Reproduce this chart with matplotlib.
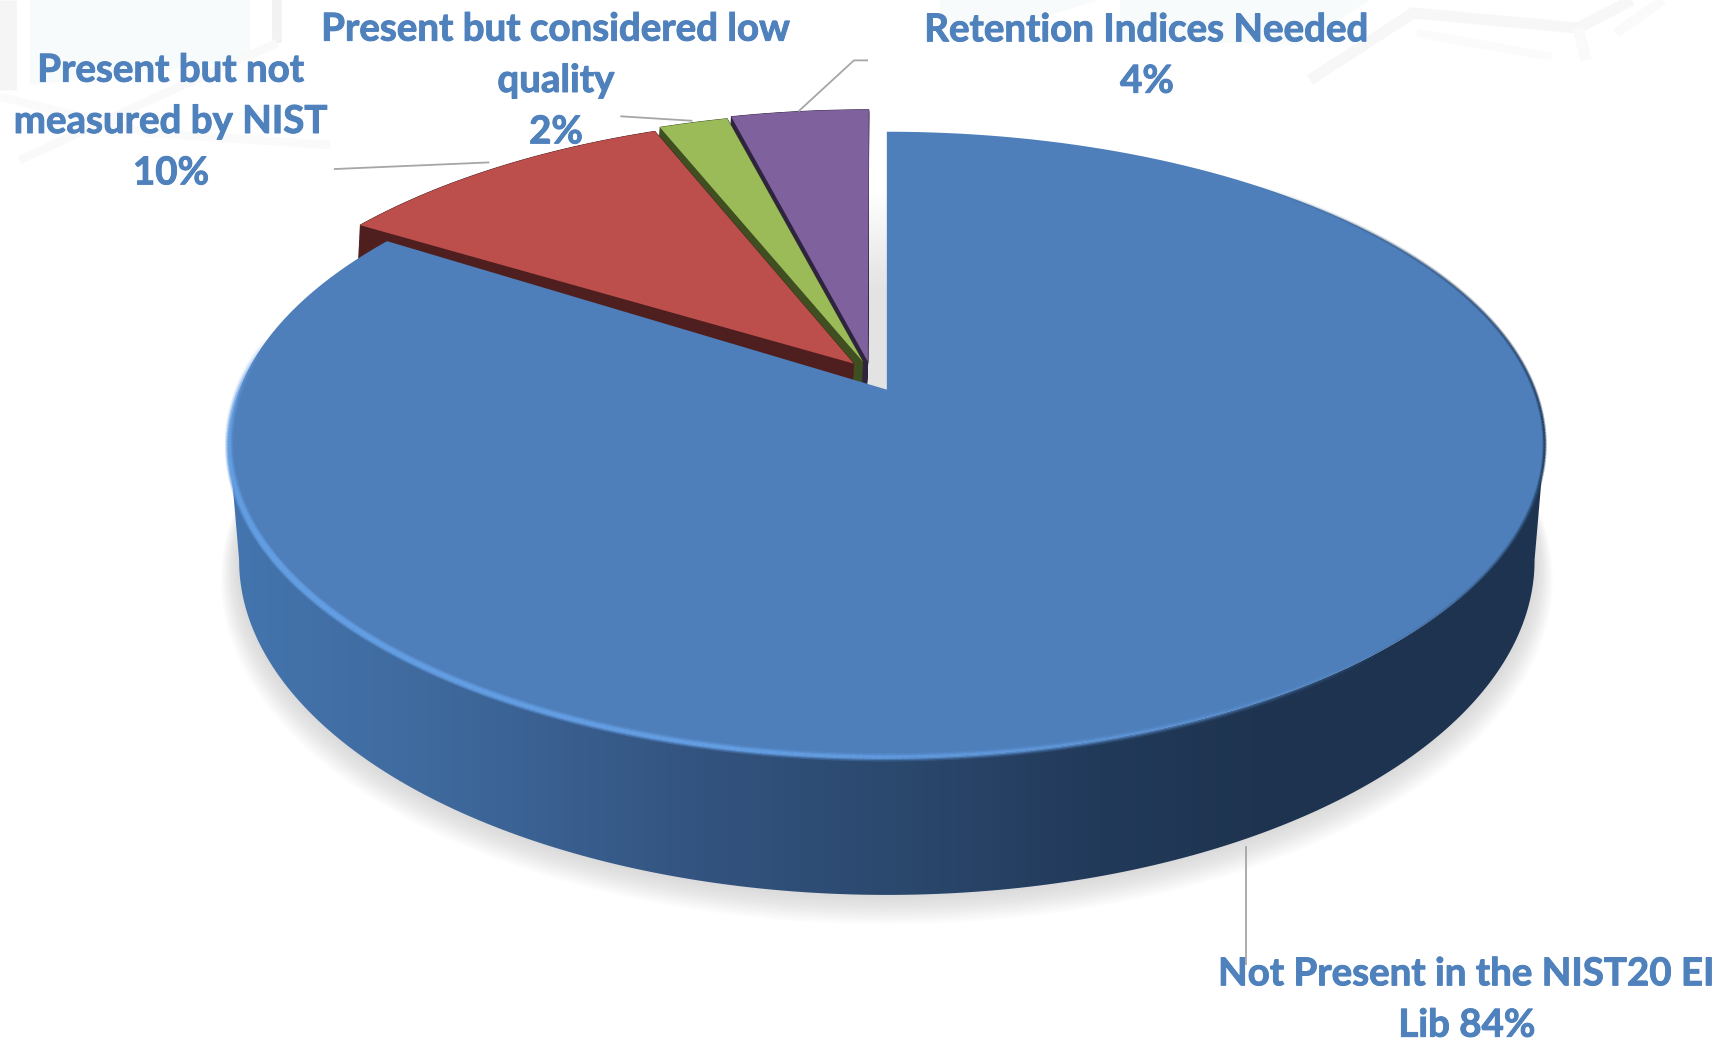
#!/usr/bin/env python3

import matplotlib
matplotlib.use("Agg")
import matplotlib.patheffects as pe
import matplotlib.pyplot as plt
import numpy as np
from matplotlib.collections import LineCollection
from matplotlib.colors import LinearSegmentedColormap, to_rgba
from matplotlib.patches import Polygon

plt.rcParams["font.family"] = ["Lato", "DejaVu Sans"]

labels = ["Not Present in the NIST20 EI\nLib", "Present but not\nmeasured by NIST",
          "Present but considered low\nquality", "Retention Indices Needed"]
values = [84, 10, 2, 4]
# the joins between name and number differ: only the big label stays on one line
joins = [" ", "\n", "\n", "\n"]
colors = ["#4e7fbb", "#bc4f4c", "#9bbb59", "#7f619d"]
walls = ["#1d3350", "#4e1f1e", "#3f4f21", "#2f2440"]
label_pos = [(1467, 1000), (171, 122), (556, 81), (1147, 56)]
# screen shift of the pulled-out slices: outer edge and tip
shifts = [(0, 0), (-27, -16), (-22, -20), (-18, -22)]
tip_shifts = [(0, 0), (-33, -26), (-24, -28), (-19, -28)]

S = 1721 / 1568
CX = 808 * S
TOP_Y, BOT_Y = 355 * S, 457 * S
K = 0.1754
RX_TOP, RY_TOP = 590 * S, 276.2 * S
RX_BOT, RY_BOT = 581 * S, 295.5 * S
TXT = "#4f81bd"
LINE = "#a6a6a6"


def project(theta, top=True):
    # disc angle in degrees -> screen pixels, with a bit of perspective
    t = np.radians(theta)
    w = 1 + K * np.sin(t)
    if top:
        return CX + RX_TOP * np.cos(t) / w, TOP_Y - RY_TOP * np.sin(t) / w
    return CX + RX_BOT * np.cos(t) / w, BOT_Y - RY_BOT * np.sin(t) / w


def wedge(a, b, shift=(0, 0), tip=(0, 0)):
    th = np.linspace(a, b, 200)
    x, y = project(th)
    return np.r_[CX + tip[0], x + shift[0]], np.r_[TOP_Y + tip[1], y + shift[1]]


def arc_lines(th, alpha, color, lw, z):
    x, y = project(th)
    pts = np.c_[x, y].reshape(-1, 1, 2)
    segs = np.concatenate([pts[:-1], pts[1:]], axis=1)
    rgba = np.tile(to_rgba(color), (len(segs), 1))
    rgba[:, 3] = np.clip(alpha[:-1], 0, 1)
    ax.add_collection(LineCollection(segs, colors=rgba, linewidths=lw, zorder=z))


fig = plt.figure(figsize=(17.21, 10.44), dpi=100)
ax = fig.add_axes([0, 0, 1, 1])
ax.axis("off")

# very faint background: pale glows, then hexagon strokes
for xs, ys in [((30, 250, 250, 30), (0, 0, 60, 85)),
               ((1120, 1370, 1300, 1120), (0, 0, 45, 40)),
               ((940, 1100, 1000, 940), (0, 0, 30, 20))]:
    ax.fill(xs, ys, color="#f8fbfb", lw=0, zorder=0)
for xs, ys, lw, col in [((277, 277), (0, 43), 7, "#f2f2f2"),
                        ((277, 150, 20), (43, 100, 160), 6, "#f9f9f9"),
                        ((0, 150, 330), (97, 133, 145), 6, "#fafafa"),
                        ((8, 8), (0, 90), 12, "#f5f5f6"),
                        ((1310, 1413, 1578, 1632), (80, 13, 28, 0), 8, "#f7f7f7"),
                        ((1578, 1586), (28, 60), 8, "#fafafa"),
                        ((1417, 1552), (33, 57), 6, "#fbfbfb"),
                        ((1616, 1663), (33, 0), 7, "#fafafa")]:
    ax.plot(xs, ys, color=col, lw=lw, solid_capstyle="butt", zorder=0.5)

# soft shadow under the disc
th = np.linspace(0, 360, 400)
bx, by = project(th, top=False)
for i in range(14, 0, -1):
    sc = 1 + i * 0.002
    ax.fill(CX + (bx - CX) * sc, BOT_Y + (by - BOT_Y) * sc + i * 1.3,
            color="#a0a0a0", alpha=0.028, lw=0, zorder=1)

# grey gap between the purple slice and the blue one
gap = np.linspace(0, 1, 64).reshape(-1, 1)
gap_cmap = LinearSegmentedColormap.from_list("gap", ["#ffffff", "#e3e3e3", "#e3e3e3"])
ax.imshow(gap, cmap=gap_cmap, aspect="auto", zorder=1.5,
          extent=(CX - 20, CX, TOP_Y, 190))

ends = 90 - np.cumsum(np.r_[0, values]) * 3.6

# small slices, purple first so the next one covers its wall
for i in [3, 2, 1]:
    x, y = wedge(ends[i], ends[i + 1], shifts[i], tip_shifts[i])
    z = 2 + (3 - i) * 0.1
    for f in np.linspace(0, 1, 70):
        ax.fill(x - 3 * f, y + 60 * f, color=walls[i], lw=0.6, zorder=z)
    ax.fill(x, y, color=colors[i], lw=0, zorder=z + 0.05)

# blue side wall with left to right shading
th_f = np.linspace(190, 350, 300)
tx, ty = project(th_f)
bx, by = project(th_f, top=False)
outline = np.c_[np.r_[tx, bx[::-1]], np.r_[ty, by[::-1]]]
wall_cmap = LinearSegmentedColormap.from_list(
    "wall", [(0, "#4475ae"), (0.15, "#3f6a9e"), (0.36, "#33537f"), (0.49, "#2c4a70"),
             (0.66, "#223a5a"), (0.78, "#1e3450"), (1, "#1d3350")])
grad = ax.imshow(np.linspace(0, 1, 512).reshape(1, -1), cmap=wall_cmap, aspect="auto",
                 zorder=3, extent=(outline[:, 0].min(), outline[:, 0].max(),
                                   outline[:, 1].max(), outline[:, 1].min()))
clip = Polygon(outline, closed=True, transform=ax.transData, fc="none", ec="none")
ax.add_patch(clip)
grad.set_clip_path(clip)

# blue top
x, y = wedge(ends[0], ends[1])
ax.fill(x, y, color=colors[0], lw=0, zorder=4)

# light rim on the front edge, fading out to the right
th_r = np.linspace(170, 312, 300)
fade = np.minimum((th_r - 170) / 18, (312 - th_r) / 45)
for lw, a in [(6, 0.25), (4, 0.45), (2.4, 0.85)]:
    arc_lines(th_r, fade * a, "#639de2", lw, 5)

# dark blurred edge on the right side
th_d = np.linspace(-50, 50, 200)
fade = np.minimum((th_d + 50) / 25, (50 - th_d) / 40)
for lw, a in [(3, 0.3), (1.5, 0.7)]:
    arc_lines(th_d, fade * a, "#264468", lw, 5)

# leader lines
for xs, ys in [((305, 445), (154, 148)), ((566, 630), (106, 110)),
               ((728, 778, 790), (101, 55, 55)), ((1135, 1135), (772, 878))]:
    ax.plot(np.array(xs) * S, np.array(ys) * S, color=LINE, lw=1.3, zorder=6)

for lab, val, join, (lx, ly) in zip(labels, values, joins, label_pos):
    t = ax.text(lx, ly, f"{lab}{join}{val}%", color=TXT, fontsize=27.7, fontweight="bold",
                ha="center", va="center", linespacing=1.62, zorder=7)
    t.set_path_effects([pe.withStroke(linewidth=0.7, foreground=TXT)])

ax.set_xlim(0, 1721)
ax.set_ylim(1044, 0)
fig.savefig("out.png", dpi=100)
